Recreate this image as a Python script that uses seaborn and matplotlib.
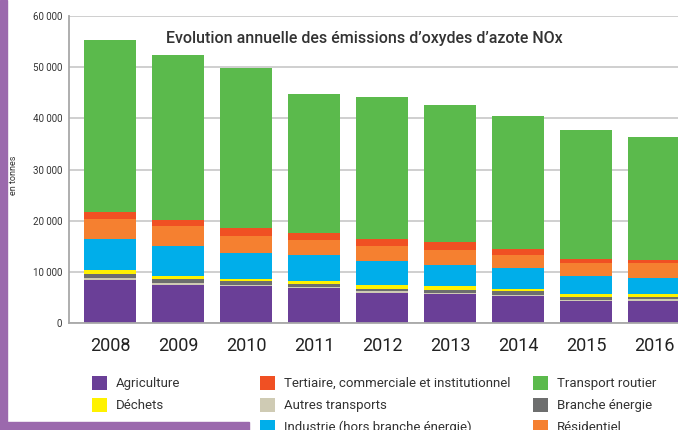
import numpy as np
import pandas as pd
import seaborn as sns
import matplotlib.pyplot as plt
from matplotlib.patches import Patch, Rectangle
from matplotlib.ticker import FuncFormatter

# data (tonnes of NOx per sector)
years = ['2008', '2009', '2010', '2011', '2012', '2013', '2014', '2015', '2016']
agriculture = [8350, 7370, 7170, 6780, 5800, 5600, 5220, 4240, 4240]
autres_transports = [350, 390, 200, 190, 390, 200, 180, 160, 390]
branche_energie = [800, 780, 780, 590, 390, 600, 790, 600, 520]
dechets = [800, 560, 390, 590, 790, 770, 390, 600, 450]
industrie = [6200, 5870, 5060, 5050, 4690, 4130, 4120, 3500, 3140]
residentiel = [3800, 3930, 3500, 2960, 2910, 2900, 2500, 2550, 2910]
tertiaire = [1300, 1170, 1400, 1340, 1530, 1600, 1200, 950, 750]
transport_routier = [33700, 32230, 31400, 27200, 27600, 26900, 26000, 25100, 23900]

# stacking order, bottom to top
layers = [
    ('Agriculture', agriculture, '#6a3f97'),
    ('Autres transports', autres_transports, '#cfcbb4'),
    ('Branche énergie', branche_energie, '#6d6e6e'),
    ('Déchets', dechets, '#fff200'),
    ('Industrie (hors branche énergie)', industrie, '#00aeea'),
    ('Résidentiel', residentiel, '#f58030'),
    ('Tertiaire, commerciale et institutionnel', tertiaire, '#f05023'),
    ('Transport routier', transport_routier, '#5bba4c'),
]
colors = {name: c for name, _, c in layers}

df = pd.DataFrame({name: vals for name, vals, _ in layers}, index=years)
cum = df.cumsum(axis=1)

sns.set_style('white')
plt.rcParams['font.family'] = ['Roboto', 'DejaVu Sans']
text_col = '#333333'

fig = plt.figure(figsize=(6.78, 4.30), dpi=100)
ax = fig.add_axes([69 / 678, 1 - 323 / 430, 1 - 69 / 678, (323 - 16) / 430])

# draw cumulative totals from the top layer down so each sits on the next
for name, _, col in reversed(layers):
    sns.barplot(x=years, y=cum[name].values, color=col, saturation=1,
                width=0.765, linewidth=0, ax=ax)

ax.set_ylim(0, 60000)
ax.set_xlim(-0.603, 8.353)
ax.set_yticks(np.arange(0, 60001, 10000))
ax.yaxis.set_major_formatter(FuncFormatter(lambda v, p: f'{int(v):,}'.replace(',', ' ')))
ax.grid(axis='y', color='#cccccc', linewidth=1.3)
ax.set_axisbelow(True)
for s in ['top', 'right']:
    ax.spines[s].set_visible(False)
for s in ['left', 'bottom']:
    ax.spines[s].set_color('#a8a8a8')
    ax.spines[s].set_linewidth(1.3)
ax.tick_params(axis='y', length=0, pad=5, labelsize=7, labelcolor=text_col)
ax.tick_params(axis='x', length=0, pad=10, labelsize=13, labelcolor='#222222')
ax.set_xlabel('')
ax.set_ylabel('')

fig.text(364 / 678, 1 - 38 / 430, 'Evolution annuelle des émissions d’oxydes d’azote NOx',
         ha='center', va='center', fontsize=11.5, fontweight='medium', color=text_col)
fig.text(14 / 678, 1 - 175 / 430, 'en tonnes', rotation=90, ha='center', va='center',
         fontsize=6.5, color=text_col)

# legend in three blocks, like the original layout
cols = [
    (['Agriculture', 'Déchets'], 92),
    (['Tertiaire, commerciale et institutionnel', 'Autres transports',
      'Industrie (hors branche énergie)'], 260),
    (['Transport routier', 'Branche énergie', 'Résidentiel'], 533),
]
for names, x0 in cols:
    handles = [Patch(facecolor=colors[n], edgecolor='none') for n in names]
    fig.legend(handles, names, loc='upper left', bbox_to_anchor=(x0 / 678, 1 - 376 / 430),
               frameon=False, fontsize=9.5, handlelength=1.15, handleheight=1.2,
               handletextpad=0.65, labelspacing=0.6, borderpad=0, borderaxespad=0,
               labelcolor=text_col)

# purple page border decoration
border = '#9b69ad'
fig.patches.append(Rectangle((0, 1 - 422 / 430), 7 / 678, 422 / 430,
                             transform=fig.transFigure, color=border, zorder=5))
fig.patches.append(Rectangle((0, 0), 249 / 678, 8 / 430,
                             transform=fig.transFigure, color=border, zorder=5))

fig.savefig('out.png', dpi=100)
